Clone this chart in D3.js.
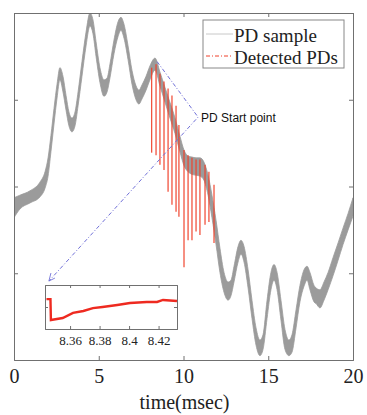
<!DOCTYPE html>
<html><head><meta charset="utf-8">
<script src="https://cdn.jsdelivr.net/npm/d3@7"></script>
<style>body{margin:0;background:#fff}svg{display:block}</style>
</head><body>
<script>
// ---- data ----
const sampleTime = [0,0.35,0.94,1.53,1.83,2.01,2.18,2.36,2.54,2.71,2.89,3.07,3.24,3.42,3.60,3.78,4.01,4.25,4.48,4.66,4.84,5.07,5.31,5.49,5.66,5.90,6.14,6.31,6.49,6.73,6.96,7.20,7.37,7.55,7.79,8.02,8.32,8.61,8.91,9.20,9.50,9.79,10.03,10.27,10.50,10.74,10.97,11.21,11.45,11.68,11.92,12.15,12.39,12.63,12.80,12.98,13.22,13.39,13.57,13.81,14.04,14.28,14.51,14.69,14.93,15.16,15.34,15.52,15.75,15.99,16.22,16.40,16.64,16.87,17.11,17.29,17.46,17.70,17.82,18.05,18.29,18.53,18.82,19.12,19.41,19.71,20.0];
const sampleUpper = [-0.13,-0.10,-0.05,0.05,0.17,0.33,0.59,0.90,1.18,1.37,1.27,1.05,0.86,0.79,0.86,1.09,1.44,1.78,2.00,1.92,1.67,1.37,1.23,1.25,1.41,1.69,1.90,1.95,1.87,1.62,1.34,1.16,1.11,1.17,1.27,1.39,1.48,1.32,1.14,0.97,0.79,0.58,0.42,0.35,0.34,0.33,0.33,0.28,0.13,-0.10,-0.39,-0.71,-0.99,-1.10,-1.08,-0.92,-0.69,-0.62,-0.69,-0.96,-1.31,-1.63,-1.77,-1.71,-1.31,-0.99,-0.90,-0.99,-1.31,-1.65,-1.77,-1.71,-1.42,-1.14,-0.96,-0.92,-0.99,-1.14,-1.17,-1.19,-1.10,-0.99,-0.82,-0.65,-0.48,-0.31,-0.13];
const sampleLower = [-0.36,-0.26,-0.19,-0.12,-0.02,0.12,0.40,0.72,1.02,1.23,1.09,0.88,0.70,0.63,0.70,0.93,1.27,1.62,1.85,1.76,1.50,1.20,1.04,1.09,1.25,1.53,1.73,1.80,1.71,1.46,1.18,1.00,0.95,1.01,1.11,1.23,1.34,1.16,0.97,0.79,0.61,0.40,0.24,0.17,0.14,0.13,0.12,0.07,-0.10,-0.36,-0.67,-0.99,-1.22,-1.31,-1.26,-1.10,-0.87,-0.78,-0.87,-1.17,-1.52,-1.83,-1.95,-1.88,-1.52,-1.19,-1.08,-1.19,-1.54,-1.88,-1.95,-1.91,-1.63,-1.33,-1.15,-1.08,-1.19,-1.33,-1.35,-1.40,-1.31,-1.19,-1.03,-0.85,-0.67,-0.50,-0.34];

const pdTime   = [8.12,8.38,8.61,8.85,9.09,9.32,9.56,9.73,10.03,10.27,10.50,10.74,10.97,11.27,11.50,11.80];
const pdTop    = [1.37,1.41,1.30,1.21,1.13,1.05,0.93,0.71,0.42,0.36,0.33,0.31,0.31,0.25,0.17,0.02];
const pdBottom = [0.39,0.36,0.25,0.19,-0.06,-0.21,-0.29,-0.35,-0.93,-0.62,-0.62,-0.52,-0.56,-0.44,-0.41,-0.65];

const insetTime  = [8.3440,8.3450,8.3467,8.3470,8.3550,8.3620,8.3690,8.3755,8.3820,8.3920,8.4006,8.4120,8.4190,8.4230,8.4325];
const insetValue = [0.36,0.36,0.36,-0.59,-0.50,-0.27,-0.18,-0.05,0.00,0.09,0.18,0.23,0.23,0.32,0.27];

const xTicks = [0,5,10,15,20];
const yTicks = [-1,0,1];
const insetXTicks = [8.36,8.38,8.4,8.42];
const insetYTicks = [0];
const legendLabels = ["PD sample","Detected PDs"];

// ---- drawing ----
const W=367,H=415;
const svg=d3.select("body").append("svg").attr("width",W).attr("height",H);
const x=d3.scaleLinear().domain([0,20]).range([14,353]);
const y=d3.scaleLinear().domain([-2,2]).range([360,13]);
const grey="#9b9b9b", red="#f0402a", blue="#7070d8", frame="#707070";
const serif="'Liberation Serif','Times New Roman',serif";

svg.append("clipPath").attr("id","clip").append("rect")
  .attr("x",14).attr("y",13).attr("width",339).attr("height",347);

const samples=sampleTime.map((t,i)=>({t,u:sampleUpper[i],l:sampleLower[i]}));
const g=svg.append("g").attr("clip-path","url(#clip)");
g.append("path").datum(samples)
  .attr("d",d3.area().x(d=>x(d.t)).y0(d=>y(d.l)).y1(d=>y(d.u)).curve(d3.curveMonotoneX))
  .attr("fill",grey).attr("stroke",grey).attr("stroke-width",0.8);

g.selectAll("line.pd").data(pdTime).join("line").attr("class","pd")
  .attr("x1",d=>x(d)).attr("x2",d=>x(d))
  .attr("y1",(d,i)=>y(pdTop[i])).attr("y2",(d,i)=>y(pdBottom[i]))
  .attr("stroke",red).attr("stroke-width",1.3).attr("stroke-opacity",0.9);

// axes frame
const axB=svg.append("g").attr("transform","translate(0,360)")
  .call(d3.axisBottom(x).tickValues(xTicks).tickSize(-4).tickPadding(9).tickFormat(d3.format("d")));
const axT=svg.append("g").attr("transform","translate(0,13)")
  .call(d3.axisTop(x).tickValues(xTicks).tickSize(-4).tickFormat(""));
const axL=svg.append("g").attr("transform","translate(14,0)")
  .call(d3.axisLeft(y).tickValues(yTicks).tickSize(-4).tickFormat(""));
const axR=svg.append("g").attr("transform","translate(353,0)")
  .call(d3.axisRight(y).tickValues(yTicks).tickSize(-4).tickFormat(""));
[axB,axT,axL,axR].forEach(a=>{a.selectAll("path,line").attr("stroke",frame);});
axB.selectAll("text").attr("font-family",serif).attr("font-size",20).attr("fill","#222");
svg.append("text").attr("x",184.5).attr("y",409).attr("text-anchor","middle")
  .attr("font-family",serif).attr("font-size",20).attr("fill","#222").text("time(msec)");

// legend
const lg=svg.append("g");
lg.append("rect").attr("x",203).attr("y",20).attr("width",141).attr("height",48)
  .attr("fill","#fff").attr("stroke","#888");
lg.append("line").attr("x1",206).attr("x2",233).attr("y1",34).attr("y2",34).attr("stroke","#c8c8c8").attr("stroke-width",1);
lg.append("line").attr("x1",206).attr("x2",233).attr("y1",56).attr("y2",56).attr("stroke",red).attr("stroke-width",1).attr("stroke-dasharray","4,2,1,2");
lg.selectAll("text").data(legendLabels).join("text")
  .attr("x",234).attr("y",(d,i)=>42+i*21.5)
  .attr("font-family",serif).attr("font-size",19).attr("fill","#222").text(d=>d);

// annotation
const peak=[x(8.44),y(1.44)], vtx=[x(10.86),y(0.80)], end=[x(2.06),y(-1.09)];
svg.append("path").attr("d",d3.line()([peak,vtx,end]))
  .attr("fill","none").attr("stroke",blue).attr("stroke-width",1).attr("stroke-dasharray","4,2,1,2");
svg.append("path").attr("d",d3.line()([[end[0]+2,end[1]-8],end,[end[0]+6,end[1]-3]]))
  .attr("fill","none").attr("stroke",blue).attr("stroke-width",0.9);
svg.append("text").attr("x",vtx[0]+3).attr("y",vtx[1]+5)
  .attr("font-family","'Liberation Sans',Arial,sans-serif").attr("font-size",12).attr("fill","#111")
  .text("PD Start point");

// inset
const ix=d3.scaleLinear().domain([8.343,8.4325]).range([45,177]);
const iy=d3.scaleLinear().domain([-1,1]).range([329,285]);
const ins=svg.append("g");
ins.append("rect").attr("x",45).attr("y",285).attr("width",132).attr("height",44).attr("fill","#fff");
const iB=ins.append("g").attr("transform","translate(0,329)")
  .call(d3.axisBottom(ix).tickValues(insetXTicks).tickSize(-3).tickPadding(7).tickFormat(d=>String(d)));
const iT=ins.append("g").attr("transform","translate(0,285)")
  .call(d3.axisTop(ix).tickValues(insetXTicks).tickSize(-3).tickFormat(""));
const iL=ins.append("g").attr("transform","translate(45,0)")
  .call(d3.axisLeft(iy).tickValues(insetYTicks).tickSize(-3).tickFormat(""));
const iR=ins.append("g").attr("transform","translate(177,0)")
  .call(d3.axisRight(iy).tickValues(insetYTicks).tickSize(-3).tickFormat(""));
[iB,iT,iL,iR].forEach(a=>{a.selectAll("path,line").attr("stroke",frame);});
iB.selectAll("text").attr("font-family",serif).attr("font-size",13).attr("fill","#222");
ins.append("path").datum(insetTime.map((t,i)=>[ix(t),iy(insetValue[i])]))
  .attr("d",d3.line().curve(d3.curveLinear))
  .attr("fill","none").attr("stroke","#ee2a20").attr("stroke-width",2.4);
</script>
</body></html>
